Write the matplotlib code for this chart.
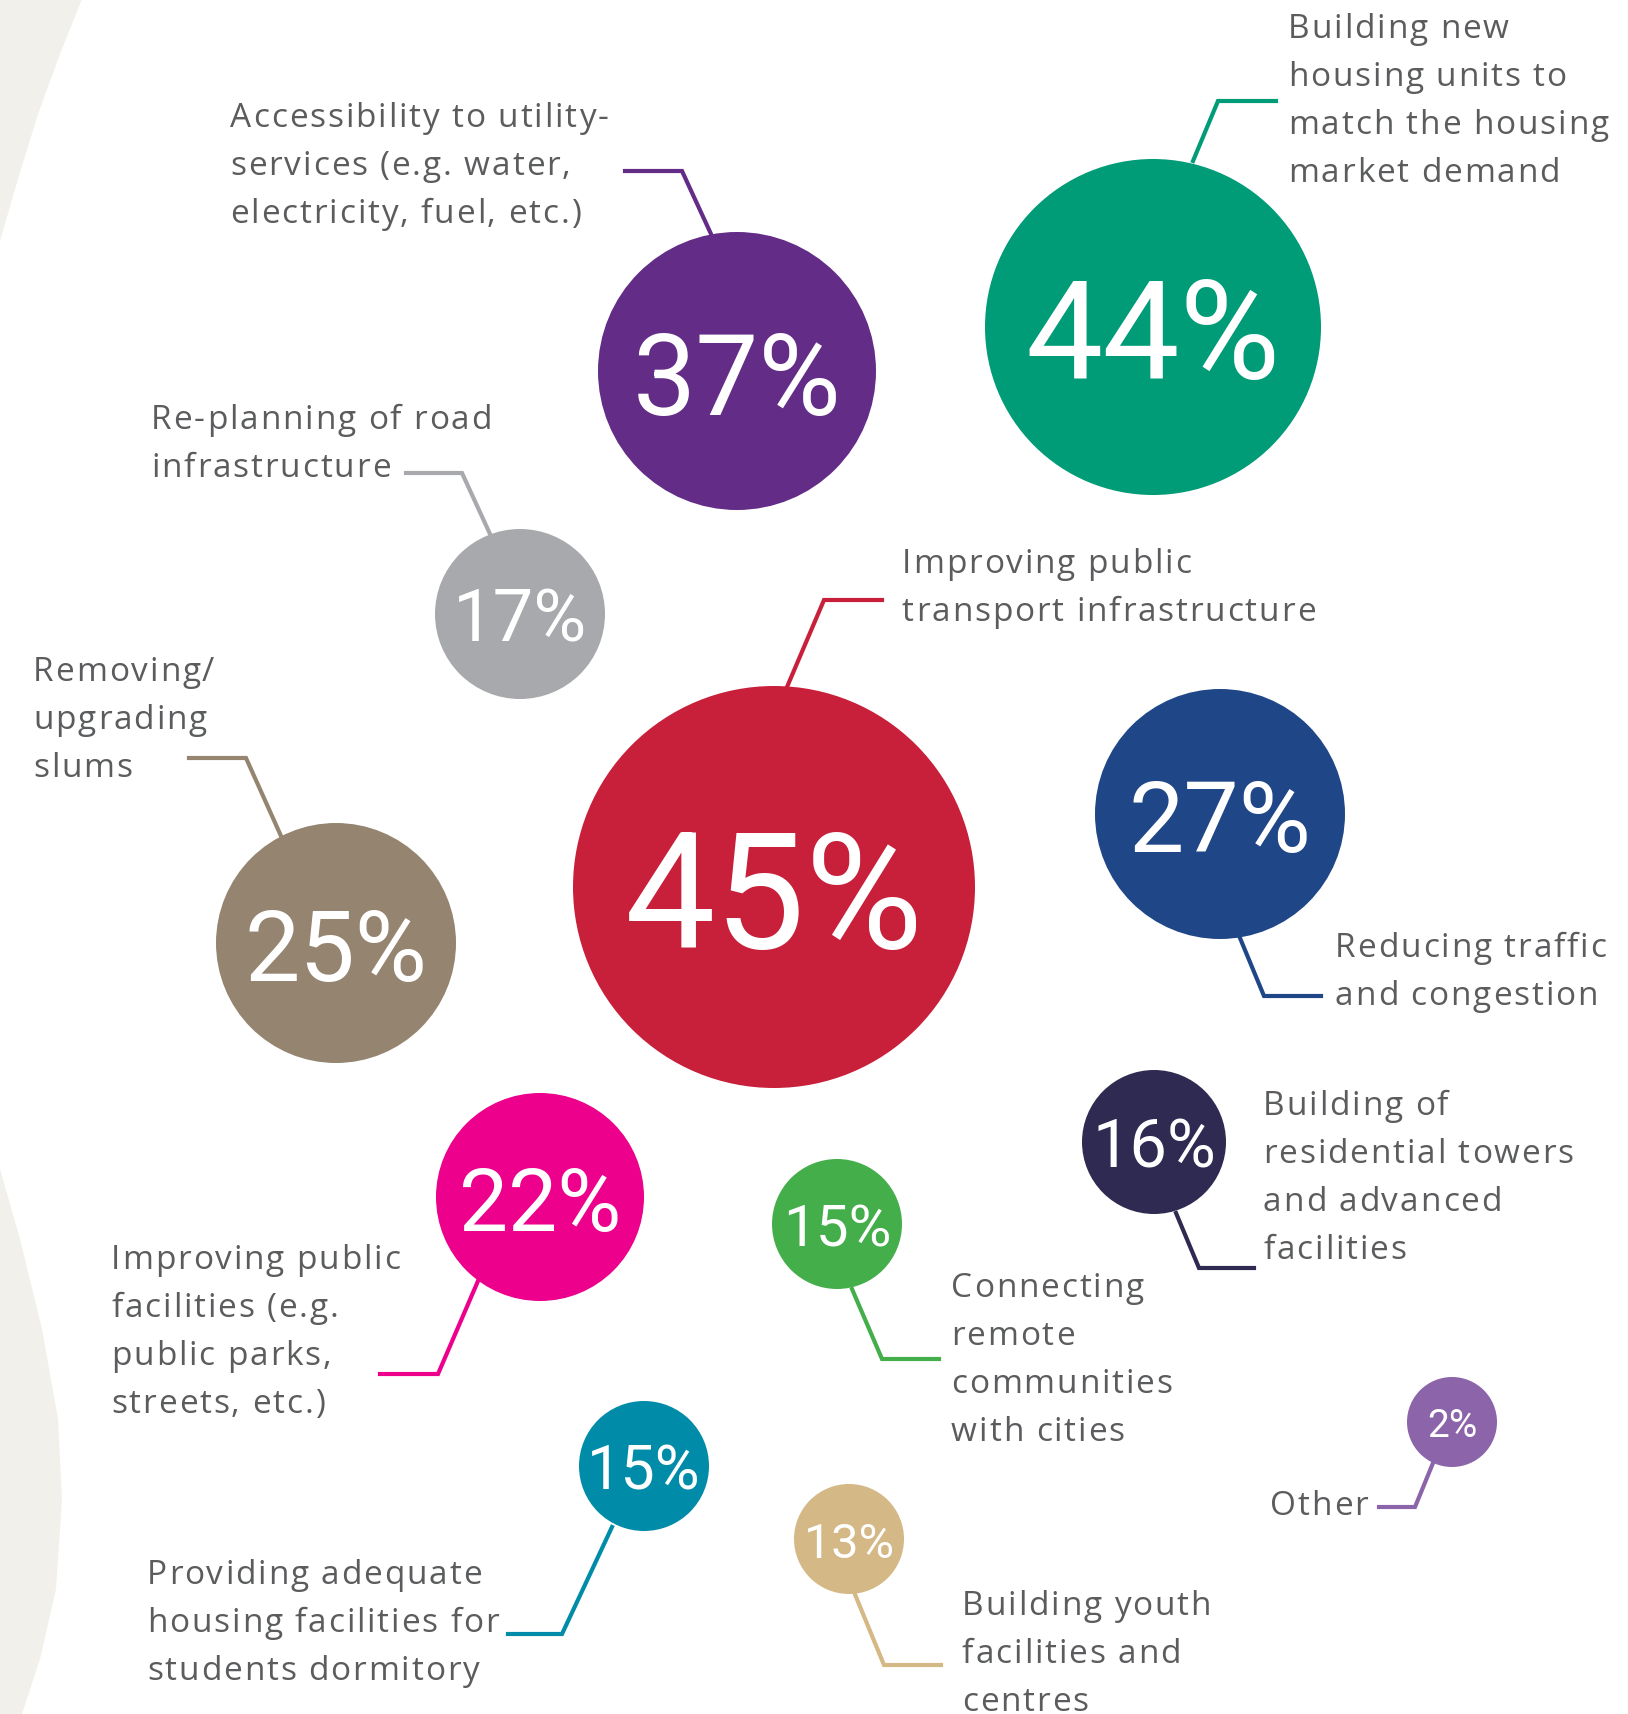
import matplotlib.pyplot as plt
from matplotlib.patches import Circle, Polygon
from matplotlib.font_manager import FontProperties
from matplotlib.textpath import TextToPath

# Data
labels = [
    "Accessibility to utility-\nservices (e.g. water,\nelectricity, fuel, etc.)",
    "Building new\nhousing units to\nmatch the housing\nmarket demand",
    "Re-planning of road\ninfrastructure",
    "Improving public\ntransport infrastructure",
    "Removing/\nupgrading\nslums",
    "Reducing traffic\nand congestion",
    "Building of\nresidential towers\nand advanced\nfacilities",
    "Improving public\nfacilities (e.g.\npublic parks,\nstreets, etc.)",
    "Connecting\nremote\ncommunities\nwith cities",
    "Providing adequate\nhousing facilities for\nstudents dormitory",
    "Building youth\nfacilities and\ncentres",
    "Other",
]
values = [37, 44, 17, 45, 25, 27, 16, 22, 15, 15, 13, 2]
colors = ["#632c87", "#009b77", "#a7a9ac", "#c8203a", "#958570", "#1f4788",
          "#2e2a51", "#ec008c", "#43ae4a", "#008ca8", "#d4b886", "#8c64aa"]

# Layout (pixel coordinates of the 1628x1715 canvas)
centers = [(737, 372), (1153, 328), (520, 615), (774, 888), (336, 944), (1220, 815),
           (1154, 1143), (540, 1198), (837, 1225), (644, 1467), (849, 1540), (1452, 1423)]
radii = [139, 168, 85, 201, 120, 125, 72, 104, 65, 65, 55, 45]
pct_size = [81, 99, 52, 116, 71, 71, 48, 63, 42, 44, 35, 28]
# label anchor: (x, first line center y, halign)
label_pos = [(230, 117, 'left'), (1288, 28, 'left'), (151, 419, 'left'), (902, 563, 'left'),
             (33, 671, 'left'), (1335, 947, 'left'), (1263, 1105, 'left'), (111, 1259, 'left'),
             (951, 1287, 'left'), (147, 1574, 'left'), (962, 1605, 'left'), (1368, 1505, 'right')]
leaders = [
    [(625, 172), (682, 172), (711, 235)],
    [(1276, 102), (1218, 102), (1193, 162)],
    [(406, 474), (462, 474), (490, 535)],
    [(882, 601), (824, 601), (787, 688)],
    [(189, 759), (246, 759), (281, 837)],
    [(1240, 939), (1264, 997), (1321, 997)],
    [(1176, 1214), (1199, 1269), (1254, 1269)],
    [(478, 1282), (438, 1375), (380, 1375)],
    [(852, 1290), (882, 1360), (939, 1360)],
    [(612, 1528), (562, 1635), (508, 1635)],
    [(854, 1593), (884, 1666), (941, 1666)],
    [(1433, 1464), (1415, 1508), (1379, 1508)],
]
line_gap = 48
track = 1.9  # extra letter spacing in px

W, H = 1628, 1715
fig = plt.figure(figsize=(W / 100, H / 100), dpi=100)
ax = fig.add_axes([0, 0, 1, 1])
ax.set_xlim(0, W)
ax.set_ylim(H, 0)
ax.set_aspect('equal')
ax.axis('off')

# beige background shapes on the left edge
beige = "#f2f0ea"
top_shape = [(0, 0), (82, 0), (60, 55), (38, 115), (18, 180), (0, 242)]
bot_shape = [(0, 1170), (20, 1240), (42, 1330), (58, 1420), (62, 1500), (56, 1590),
             (40, 1660), (22, 1715), (0, 1715)]
ax.add_patch(Polygon(top_shape, closed=True, fc=beige, ec='none', zorder=0))
ax.add_patch(Polygon(bot_shape, closed=True, fc=beige, ec='none', zorder=0))

text_color = "#5b5c5e"
prop = FontProperties(family='Open Sans', size=24)
ttp = TextToPath()


def ink_w(s):
    # ink width in pixels
    return ttp.get_text_width_height_descent(s, prop, ismath=False)[0] * 100 / 72


def tracked_text(x, y, s, ha='left'):
    total = ink_w(s) + track * (len(s) - 1)
    x0 = x - total if ha == 'right' else x
    for k, ch in enumerate(s):
        if ch == ' ':
            continue
        left = ink_w(s[:k + 1]) - ink_w(ch) + track * k
        ax.text(x0 + left, y, ch, color=text_color, fontproperties=prop,
                ha='left', va='baseline', zorder=3)


for i in range(len(values)):
    cx, cy = centers[i]
    ax.add_patch(Circle((cx, cy), radii[i], fc=colors[i], ec='none', zorder=2))
    ax.text(cx, cy, f"{values[i]}%", color='white', fontsize=pct_size[i],
            family='Roboto', fontweight='normal', ha='center', va='center_baseline', zorder=3)
    xs = [p[0] for p in leaders[i]]
    ys = [p[1] for p in leaders[i]]
    ax.plot(xs, ys, color=colors[i], lw=3, solid_joinstyle='miter', zorder=1)
    lx, ly, ha = label_pos[i]
    for j, line in enumerate(labels[i].split("\n")):
        tracked_text(lx, ly + j * line_gap + 10, line, ha)

fig.savefig("out.png", dpi=100)
